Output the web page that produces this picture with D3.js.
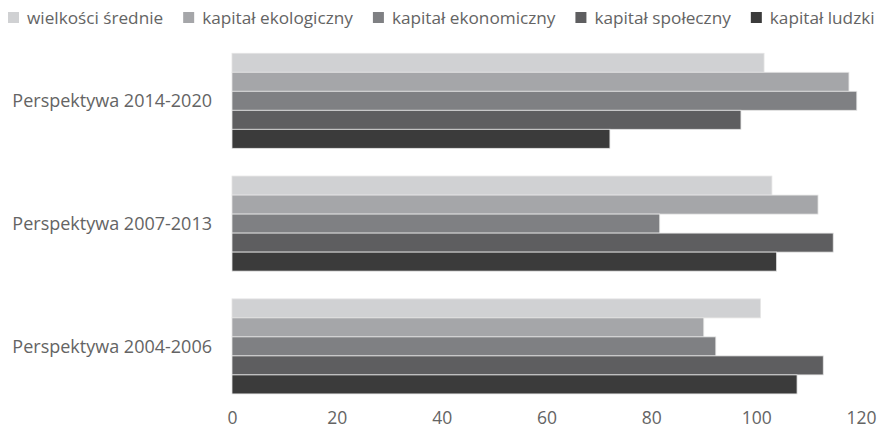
<!DOCTYPE html>
<meta charset="utf-8">
<style>
body{
    margin: 0;
    background: #fff;
}
text{
    font-family: "Open Sans", Lato, sans-serif;
    fill: #646464;
}
</style>
<body>
<script src="https://d3js.org/d3.v7.min.js"></script>
<script>

var width = 889,
    height = 431;

var periods = ["Perspektywa 2014-2020", "Perspektywa 2007-2013", "Perspektywa 2004-2006"];
var seriesNames = ["wielkości średnie", "kapitał ekologiczny", "kapitał ekonomiczny", "kapitał społeczny", "kapitał ludzki"];
var seriesColors = ["#d0d1d3", "#a5a6a9", "#7f8083", "#5e5e60", "#3b3b3b"];

// values per period, same order as periods
var avgValues = [101.5, 103.0, 100.8];
var ecoValues = [117.7, 111.8, 90.0];
var econValues = [119.2, 81.6, 92.3];
var socialValues = [97.1, 114.7, 112.8];
var humanValues = [72.1, 103.9, 107.8];

var xTicks = [0, 20, 40, 60, 80, 100, 120];

var seriesValues = [avgValues, ecoValues, econValues, socialValues, humanValues];

var svg = d3.select("body").append("svg")
    .attr("width", width)
    .attr("height", height);

var x = d3.scaleLinear()
    .domain([0, 120])
    .range([232, 861]);

var y0 = d3.scaleBand()
    .domain(periods)
    .range([39.4, 407.8])
    .paddingInner(0.226)
    .paddingOuter(0.113);

var y1 = d3.scaleBand()
    .domain(seriesNames)
    .range([0, y0.bandwidth()]);

var data = [];
periods.forEach(function(p, i) {
    seriesNames.forEach(function(s, j) {
        data.push({period: p, series: s, value: seriesValues[j][i], color: seriesColors[j]});
    });
});

svg.selectAll(".bar")
    .data(data)
  .enter().append("rect")
    .attr("class", "bar")
    .attr("x", x(0))
    .attr("y", d => y0(d.period) + y1(d.series))
    .attr("width", d => x(d.value) - x(0))
    .attr("height", y1.bandwidth())
    .attr("fill", d => d.color)
    .attr("stroke", "#e4e4e4")
    .attr("stroke-width", 0.8);

// category labels
svg.selectAll(".cat")
    .data(periods)
  .enter().append("text")
    .attr("class", "cat")
    .attr("x", 212)
    .attr("y", d => y0(d) + y0.bandwidth() / 2)
    .attr("dy", "0.35em")
    .attr("text-anchor", "end")
    .style("font-size", "18px")
    .text(d => d);

// x axis, labels only
var xAxis = d3.axisBottom(x)
    .tickValues(xTicks)
    .tickSize(0)
    .tickPadding(0);

var gx = svg.append("g")
    .attr("transform", "translate(0,412)")
    .call(xAxis);
gx.select(".domain").remove();
gx.selectAll("text")
    .style("font-size", "17.5px")
    .attr("fill", "#646464")
    .style("font-family", "'Open Sans', Lato, sans-serif");

// legend
var legend = svg.append("g");
var lx = 8;
seriesNames.forEach(function(s, i) {
    legend.append("rect")
        .attr("x", lx)
        .attr("y", 12)
        .attr("width", 11)
        .attr("height", 11)
        .attr("fill", seriesColors[i]);
    var t = legend.append("text")
        .attr("x", lx + 19)
        .attr("y", 24)
        .style("font-size", "17.2px")
        .text(s);
    lx += 19 + t.node().getComputedTextLength() + 20;
});

</script>
